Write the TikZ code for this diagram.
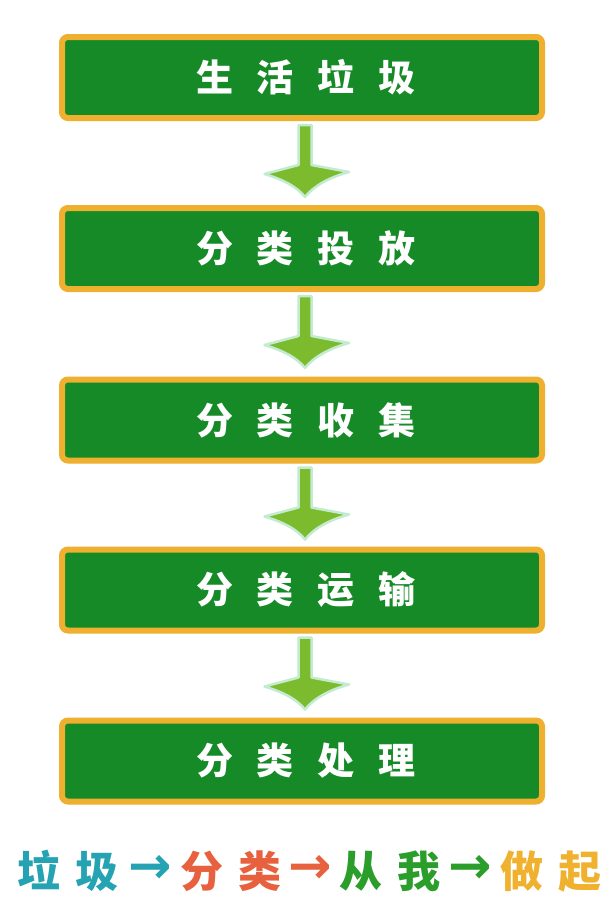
\documentclass[tikz,border=0pt]{standalone}
\usepackage{fontspec}
\newfontfamily\cjk{Noto Sans CJK SC}
\newfontfamily\dejavu{DejaVu Sans}
\usetikzlibrary{calc}
\definecolor{boxgreen}{HTML}{158A27}
\definecolor{boxorange}{HTML}{EEB02E}
\definecolor{arrgreen}{HTML}{7DBB2E}
\definecolor{arrglow}{HTML}{C2EBCF}
\definecolor{cteal}{HTML}{25A3B2}
\definecolor{cred}{HTML}{E8613F}
\definecolor{cgreen}{HTML}{2A9D2A}
\definecolor{cyellow}{HTML}{F0B22E}
\tikzset{
  stepbox/.style={draw=boxorange, line width=6pt, fill=boxgreen, rounded corners=6pt,
    minimum width=480pt, minimum height=81pt, inner sep=0pt},
  boxtext/.style={text=white, font=\cjk\bfseries\fontsize{37}{37}\selectfont, inner sep=0pt},
  slogan/.style={font=\cjk\bfseries\fontsize{43}{43}\selectfont, inner sep=0pt},
  sarrow/.style={font=\dejavu\bfseries\fontsize{52}{52}\selectfont, inner sep=0pt},
  flowarrow/.style={fill=arrgreen, draw=arrglow, line width=2.5pt, line join=round}
}
\newcommand{\gp}{\hspace{24pt}}
\newcommand{\flowarr}[2]{%
  \path let \p1=(#1.south), \p2=(#2.north) in
    coordinate (s) at (\x1+3pt,\y1)
    [flowarrow] (s) ++(-6.5pt,-4pt) -- ++(0,-40pt) -- ++(-34pt,-9pt)
      .. controls ++(20pt,-6pt) and ++(-8pt,10pt) .. ($(s)+(0,-76pt)$)
      .. controls ++(8pt,10pt) and ++(-22pt,-6pt) .. ($(s)+(44pt,-51pt)$)
      -- ($(s)+(6.5pt,-44pt)$) -- ($(s)+(6.5pt,-4pt)$) -- cycle;}
\begin{document}
\begin{tikzpicture}[x=1pt,y=1pt]
\useasboundingbox[fill=white] (0,0) rectangle (615,-919);
\node[stepbox] (b1) at (302,-77.5) {};
\node[stepbox] (b2) at (302,-248.5) {};
\node[stepbox] (b3) at (302,-420) {};
\node[stepbox] (b4) at (302,-590) {};
\node[stepbox] (b5) at (302,-761) {};
\node[boxtext] (t1) at (306,-77.5) {生\gp 活\gp 垃\gp 圾};
\node[boxtext] (t2) at (306,-248.5) {分\gp 类\gp 投\gp 放};
\node[boxtext] (t3) at (306,-420) {分\gp 类\gp 收\gp 集};
\node[boxtext] (t4) at (306,-590) {分\gp 类\gp 运\gp 输};
\node[boxtext] (t5) at (306,-761) {分\gp 类\gp 处\gp 理};
\flowarr{b1}{b2}
\flowarr{b2}{b3}
\flowarr{b3}{b4}
\flowarr{b4}{b5}
\node[slogan, text=cteal] (w1) at (68,-871) {垃\hspace{15pt}圾};
\node[sarrow, text=cteal] (a1) at (150,-869) {→};
\node[slogan, text=cred] (w2) at (231,-871) {分\hspace{15pt}类};
\node[sarrow, text=cred] (a2) at (310,-869) {→};
\node[slogan, text=cgreen] (w3) at (390,-871) {从\hspace{15pt}我};
\node[sarrow, text=cgreen] (a3) at (470,-869) {→};
\node[slogan, text=cyellow] (w4) at (551,-871) {做\hspace{15pt}起};
\end{tikzpicture}
\end{document}
